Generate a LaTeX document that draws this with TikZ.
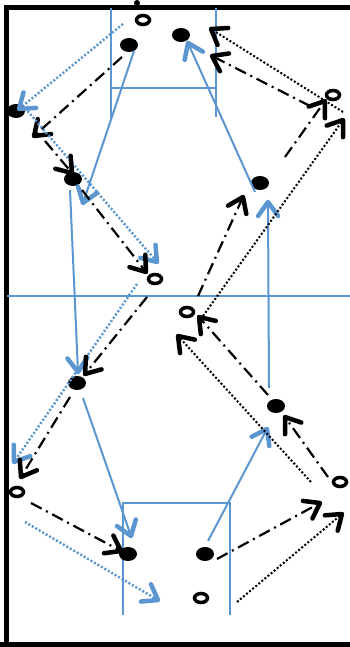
\documentclass[tikz,border=0pt]{standalone}
\usetikzlibrary{decorations.markings,shapes.geometric}
\definecolor{fb}{RGB}{91,150,208}
\begin{document}
\begin{tikzpicture}[x=1pt,y=-1pt,
 player/.style={ellipse,fill=black,minimum width=18pt,minimum height=14pt,inner sep=0pt},
 cone/.style={ellipse,draw=black,line width=3.5pt,minimum width=13pt,minimum height=9pt,inner sep=0pt},
 fieldline/.style={draw=fb,line width=1.8pt},
 btip/.style={postaction={decorate,decoration={markings,mark=at position 1 with {\draw[solid,line width=4.5pt,line cap=round,line join=round] (-14pt,10pt) -- (0pt,0pt) -- (-14pt,-10pt);}}}},
 brun/.style={btip,fb,line width=2pt},
 bdots/.style={btip,fb,line width=2.5pt,dash pattern=on 2pt off 2pt},
 dashdot/.style={btip,black,line width=2.2pt,dash pattern=on 12pt off 5pt on 2pt off 5pt},
 kdots/.style={btip,black,line width=2pt,dash pattern=on 2pt off 2pt}]
\useasboundingbox (0,0) rectangle (350,647);
% frame
\draw[line width=5pt] (6.5,700) -- (6.5,7.5) -- (400,7.5);
\draw[line width=5pt] (0,644.5) -- (400,644.5);
\fill (137,3) circle (3);
% field lines
\draw[fieldline] (111,8) -- (111,118);
\draw[fieldline] (216,8) -- (216,117);
\draw[fieldline] (111,88) -- (216,88);
\draw[fieldline] (7,296) -- (350,296);
\draw[fieldline] (123,615) -- (123,503) -- (230,503) -- (230,615);
% players
\node[player] (p1) at (129,45) {};
\node[player] (p2) at (181,35) {};
\node[player] (p3) at (16,111) {};
\node[player] (p4) at (73,179) {};
\node[player] (p5) at (260,183) {};
\node[player] (p6) at (77,383) {};
\node[player] (p7) at (276,406) {};
\node[player] (p8) at (128,554) {};
\node[player] (p9) at (205,554) {};
% cones
\node[cone] (r1) at (143,20) {};
\node[cone] (r2) at (333,95) {};
\node[cone] (r3) at (155,279) {};
\node[cone] (r4) at (187,312) {};
\node[cone] (r5) at (17,492) {};
\node[cone] (r6) at (340,482) {};
\node[cone] (r7) at (201,598) {};
% endpoints
\coordinate (a1s) at (123,24);  \coordinate (a1e) at (19,109);
\coordinate (a2s) at (122,57);  \coordinate (a2e) at (34,136);
\coordinate (a3s) at (134,51);  \coordinate (a3e) at (83,203);
\coordinate (a4s) at (25,108);  \coordinate (a4e) at (157,262);
\coordinate (a5s) at (45,141);  \coordinate (a5e) at (72,173);
\coordinate (a6s) at (82,190);  \coordinate (a6e) at (146,272);
\coordinate (a7s) at (70,190);  \coordinate (a7e) at (78,372);
\coordinate (a8s) at (137,284); \coordinate (a8e) at (14,462);
\coordinate (a9s) at (147,297); \coordinate (a9e) at (85,374);
\coordinate (a10s) at (70,397); \coordinate (a10e) at (21,477);
\coordinate (a11s) at (83,398); \coordinate (a11e) at (131,536);
\coordinate (a12s) at (31,503); \coordinate (a12e) at (121,551);
\coordinate (a13s) at (25,522); \coordinate (a13e) at (158,600);
\coordinate (a14s) at (217,559); \coordinate (a14e) at (320,503);
\coordinate (a15s) at (237,602); \coordinate (a15e) at (342,514);
\coordinate (a16s) at (208,541); \coordinate (a16e) at (267,429);
\coordinate (a17s) at (328,477); \coordinate (a17e) at (285,417);
\coordinate (a18s) at (311,482); \coordinate (a18e) at (178,336);
\coordinate (a19s) at (268,395); \coordinate (a19e) at (199,317);
\coordinate (a20s) at (269,388); \coordinate (a20e) at (268,202);
\coordinate (a21s) at (198,296); \coordinate (a21e) at (243,197);
\coordinate (a22s) at (203,316); \coordinate (a22e) at (343,120);
\coordinate (a23s) at (255,192); \coordinate (a23e) at (188,43);
\coordinate (a24s) at (285,157); \coordinate (a24e) at (325,101);
\coordinate (a25s) at (310,106); \coordinate (a25e) at (212,56);
\coordinate (a26s) at (343,112); \coordinate (a26e) at (211,29);
% connectors
\draw[bdots] (a1s) -- (a1e);
\draw[dashdot] (a2s) -- (a2e);
\draw[brun] (a3s) -- (a3e);
\draw[bdots] (a4s) -- (a4e);
\draw[dashdot] (a5s) -- (a5e);
\draw[dashdot] (a6s) -- (a6e);
\draw[brun] (a7s) -- (a7e);
\draw[bdots] (a8s) -- (a8e);
\draw[dashdot] (a9s) -- (a9e);
\draw[dashdot] (a10s) -- (a10e);
\draw[brun] (a11s) -- (a11e);
\draw[dashdot] (a12s) -- (a12e);
\draw[bdots] (a13s) -- (a13e);
\draw[dashdot] (a14s) -- (a14e);
\draw[kdots] (a15s) -- (a15e);
\draw[brun] (a16s) -- (a16e);
\draw[dashdot] (a17s) -- (a17e);
\draw[kdots] (a18s) -- (a18e);
\draw[dashdot] (a19s) -- (a19e);
\draw[brun] (a20s) -- (a20e);
\draw[dashdot] (a21s) -- (a21e);
\draw[kdots] (a22s) -- (a22e);
\draw[brun] (a23s) -- (a23e);
\draw[dashdot] (a24s) -- (a24e);
\draw[dashdot] (a25s) -- (a25e);
\draw[kdots] (a26s) -- (a26e);
\end{tikzpicture}
\end{document}
